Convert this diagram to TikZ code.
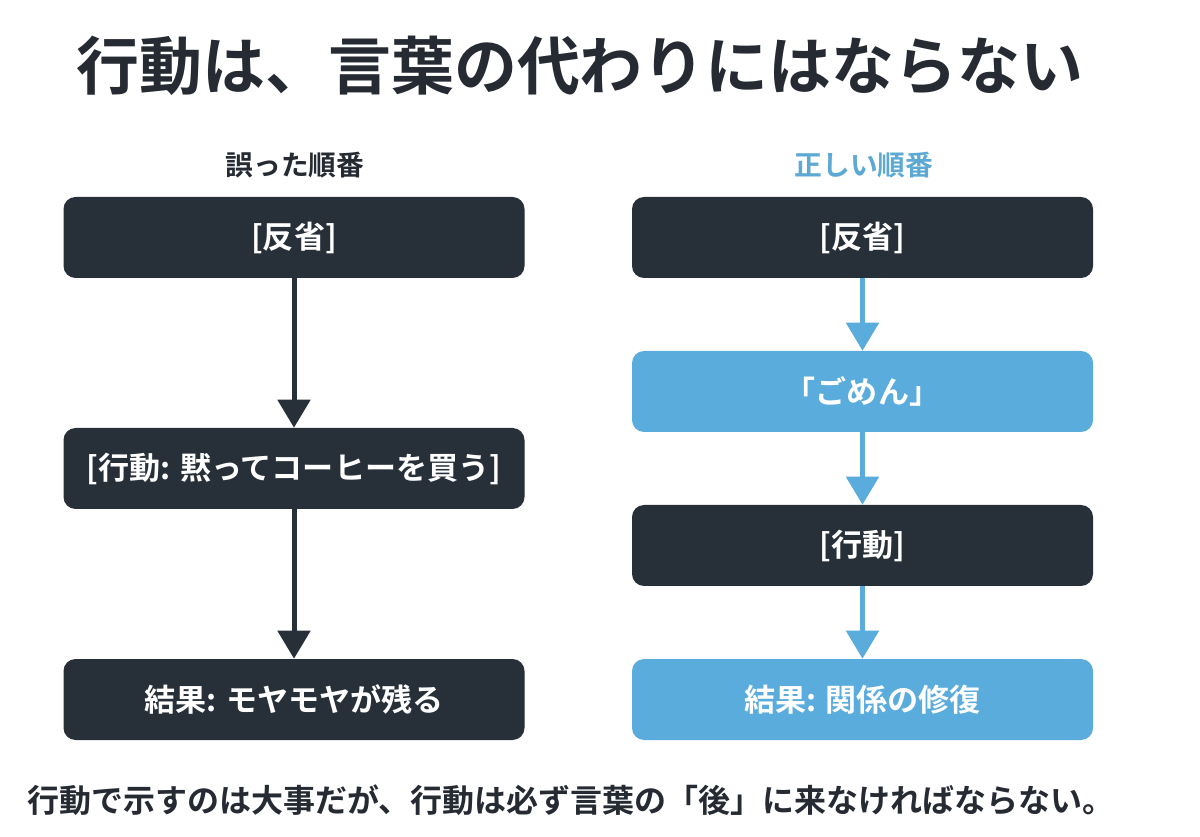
\documentclass[tikz,border=0pt]{standalone}
\usepackage{fontspec}
\setmainfont{Noto Sans CJK JP}[BoldFont={Noto Sans CJK JP Bold}]
\usetikzlibrary{arrows.meta}
\definecolor{dark}{HTML}{272F39}
\definecolor{sky}{HTML}{5AACDD}
\definecolor{skytext}{HTML}{5CA9D4}
\definecolor{titlec}{HTML}{262B33}
\tikzset{
  box/.style={rounded corners=12*0.75pt, minimum width=461*0.75pt, minimum height=81*0.75pt, inner sep=0pt, text=white, font=\fontsize{23.3}{27}\selectfont\bfseries},
  darkbox/.style={box, fill=dark},
  bluebox/.style={box, fill=sky},
  arr/.style={line width=5*0.75pt, -{Triangle[width=32*0.75pt,length=28*0.75pt]}},
}
\begin{document}
\begin{tikzpicture}[x=0.75pt,y=-0.75pt]
\useasboundingbox[fill=white] (0,0) rectangle (1200,837);
\node[text=titlec, font=\fontsize{47.2}{53}\selectfont\bfseries] (title) at (580,66) {行動は、言葉の代わりにはならない};
\node[text=titlec, font=\fontsize{20.8}{24}\selectfont\bfseries] (lh) at (295,165) {誤った順番};
\node[text=skytext, font=\fontsize{20.8}{24}\selectfont\bfseries] (rh) at (864,165) {正しい順番};
% left column
\node[darkbox] (l1) at (294,237.5) {[反省]};
\node[darkbox] (l2) at (294,468.5) {[行動: 黙ってコーヒーを買う]};
\node[darkbox] (l3) at (294,699.5) {結果: モヤモヤが残る};
\draw[arr, dark] (l1) -- (l2);
\draw[arr, dark] (l2) -- (l3);
% right column
\node[darkbox] (r1) at (862.5,237.5) {[反省]};
\node[bluebox] (r2) at (862.5,391.5) {「ごめん」};
\node[darkbox] (r3) at (862.5,545.5) {[行動]};
\node[bluebox] (r4) at (862.5,699.5) {結果: 関係の修復};
\draw[arr, sky] (r1) -- (r2);
\draw[arr, sky] (r2) -- (r3);
\draw[arr, sky] (r3) -- (r4);
\node[text=titlec, font=\fontsize{24}{28}\selectfont\bfseries] (foot) at (571,800) {行動で示すのは大事だが、行動は必ず言葉の「後」に来なければならない。};
\end{tikzpicture}
\end{document}
